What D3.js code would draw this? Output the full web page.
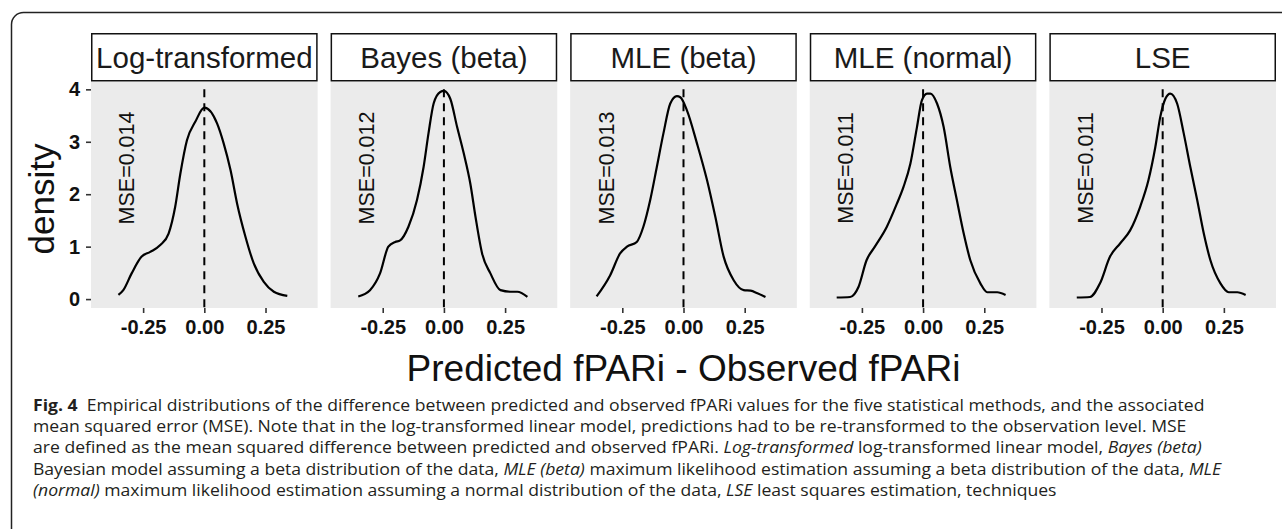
<!DOCTYPE html>
<html><head><meta charset="utf-8">
<script src="https://cdn.jsdelivr.net/npm/d3@7"></script>
<style>body{margin:0;background:#fff;} svg{display:block;}</style>
</head><body>
<svg id="chart" width="1282" height="529"></svg>
<script>
const panels = ["Log-transformed", "Bayes (beta)", "MLE (beta)", "MLE (normal)", "LSE"];
const mseLabels = ["MSE=0.014", "MSE=0.012", "MSE=0.013", "MSE=0.011", "MSE=0.011"];
const xTicks = [-0.25, 0, 0.25];
const xTickLabels = ["-0.25", "0.00", "0.25"];
const yTicks = [0, 1, 2, 3, 4];
const yTickLabels = ["0", "1", "2", "3", "4"];

const curveLog = [[-0.351,0.08],[-0.331,0.17],[-0.297,0.49],[-0.256,0.81],[-0.221,0.90],[-0.18,1.03],[-0.146,1.25],[-0.119,1.76],[-0.098,2.39],[-0.071,3.03],[-0.037,3.38],[0.0,3.65],[0.052,3.35],[0.079,2.97],[0.107,2.46],[0.134,1.82],[0.168,1.19],[0.202,0.68],[0.243,0.33],[0.284,0.14],[0.339,0.06]];
const curveBayes = [[-0.350,0.05],[-0.302,0.17],[-0.261,0.49],[-0.227,1.0],[-0.199,1.09],[-0.179,1.12],[-0.145,1.38],[-0.110,1.89],[-0.083,2.52],[-0.063,3.16],[-0.042,3.73],[-0.015,3.95],[0.0,3.97],[0.026,3.82],[0.054,3.28],[0.081,2.78],[0.108,2.20],[0.129,1.57],[0.156,0.87],[0.190,0.49],[0.231,0.17],[0.272,0.14],[0.300,0.14],[0.341,0.04]];
const curveMleBeta = [[-0.355,0.05],[-0.300,0.45],[-0.259,0.87],[-0.231,1.0],[-0.191,1.09],[-0.164,1.38],[-0.136,1.89],[-0.109,2.52],[-0.082,3.16],[-0.054,3.73],[-0.027,3.87],[-0.013,3.85],[0.014,3.6],[0.055,2.97],[0.096,2.27],[0.130,1.57],[0.164,0.81],[0.205,0.36],[0.246,0.17],[0.274,0.16],[0.302,0.11],[0.335,0.04]];
const curveMleNormal = [[-0.353,0.03],[-0.298,0.04],[-0.264,0.23],[-0.231,0.74],[-0.197,1.0],[-0.148,1.38],[-0.107,1.82],[-0.080,2.14],[-0.052,2.58],[-0.025,3.28],[-0.005,3.79],[0.016,3.92],[0.030,3.92],[0.057,3.73],[0.084,3.28],[0.111,2.52],[0.138,1.89],[0.166,1.25],[0.193,0.74],[0.234,0.30],[0.262,0.13],[0.303,0.13],[0.337,0.08]];
const curveLse = [[-0.351,0.03],[-0.297,0.04],[-0.256,0.30],[-0.215,0.81],[-0.174,1.06],[-0.133,1.31],[-0.092,1.76],[-0.058,2.27],[-0.030,2.90],[-0.010,3.47],[0.011,3.82],[0.031,3.92],[0.059,3.73],[0.086,3.16],[0.113,2.52],[0.141,1.89],[0.168,1.25],[0.195,0.74],[0.236,0.30],[0.270,0.13],[0.305,0.13],[0.339,0.08]];
const curves = [curveLog, curveBayes, curveMleBeta, curveMleNormal, curveLse];

const mseX = -0.317, mseY = 2.5;

const captionLines = [
  [["b","Fig. 4"],["r","  Empirical distributions of the difference between predicted and observed fPARi values for the five statistical methods, and the associated"]],
  [["r","mean squared error (MSE). Note that in the log-transformed linear model, predictions had to be re-transformed to the observation level. MSE"]],
  [["r","are defined as the mean squared difference between predicted and observed fPARi. "],["i","Log-transformed"],["r"," log-transformed linear model, "],["i","Bayes (beta)"]],
  [["r","Bayesian model assuming a beta distribution of the data, "],["i","MLE (beta)"],["r"," maximum likelihood estimation assuming a beta distribution of the data, "],["i","MLE"]],
  [["i","(normal)"],["r"," maximum likelihood estimation assuming a normal distribution of the data, "],["i","LSE"],["r"," least squares estimation, techniques"]]
];
const captionEnds = [1222, 1098, 1239, 1247, 1070];

const svg = d3.select("#chart");
const FONT = "'Liberation Sans', Arial, sans-serif";

svg.append("rect").attr("x", 11.5).attr("y", 12.5).attr("width", 1330).attr("height", 600)
  .attr("rx", 12).attr("fill", "#fff").attr("stroke", "#222").attr("stroke-width", 1.5);

const fx = d3.scaleBand().domain(panels).range([91, 1276]).paddingInner(0.054).paddingOuter(0);
const bw = fx.bandwidth();
const y = d3.scaleLinear().domain([-0.17, 4.14]).range([308, 82]);
const x = d3.scaleLinear().domain([-0.463, 0.463]).range([0, bw]);
const line = d3.line().x(d => x(d[0])).y(d => y(d[1])).curve(d3.curveMonotoneX);

panels.forEach((p, i) => {
  const g = svg.append("g").attr("transform", `translate(${fx(p)},0)`);
  g.append("rect").attr("x", 0).attr("y", y.range()[1]).attr("width", bw)
    .attr("height", y.range()[0] - y.range()[1]).attr("fill", "#EBEBEB");
  g.append("rect").attr("x", 0.75).attr("y", 33.75).attr("width", bw - 1.5).attr("height", 47)
    .attr("fill", "#fff").attr("stroke", "#111").attr("stroke-width", 1.5);
  g.append("text").attr("x", bw / 2).attr("y", 67.5).attr("text-anchor", "middle")
    .style("font-family", FONT).style("font-size", "29.5px").attr("fill", "#1a1a1a").text(p);

  const ax = g.append("g").attr("transform", `translate(0,${y.range()[0]})`)
    .call(d3.axisBottom(x).tickValues(xTicks).tickFormat((d, j) => xTickLabels[j]).tickSize(5).tickPadding(7));
  ax.select(".domain").remove();
  ax.selectAll("line").attr("stroke", "#333").attr("stroke-width", 1.6);
  ax.selectAll("text").style("font-family", FONT).style("font-size", "20px").style("font-weight", "bold").attr("fill", "#111");

  g.append("path").datum(curves[i]).attr("d", line).attr("fill", "none")
    .attr("stroke", "#000").attr("stroke-width", 2.2).attr("stroke-linejoin", "round");
  g.append("line").attr("x1", x(0)).attr("x2", x(0)).attr("y1", y(4)).attr("y2", y.range()[0])
    .attr("stroke", "#000").attr("stroke-width", 2).attr("stroke-dasharray", "8,6");

  g.append("text").attr("transform", `translate(${x(mseX)},${y(mseY)}) rotate(-90)`)
    .attr("text-anchor", "middle").attr("dy", "0.36em")
    .style("font-family", FONT).style("font-size", "21.5px").attr("fill", "#111").text(mseLabels[i]);
});

const ay = svg.append("g").attr("transform", `translate(${fx(panels[0])},0)`)
  .call(d3.axisLeft(y).tickValues(yTicks).tickFormat((d, j) => yTickLabels[j]).tickSize(5).tickPadding(6));
ay.select(".domain").remove();
ay.selectAll("line").attr("stroke", "#333").attr("stroke-width", 1.6);
ay.selectAll("text").style("font-family", FONT).style("font-size", "20px").style("font-weight", "bold").attr("fill", "#111");

svg.append("text").attr("transform", `translate(54,199) rotate(-90)`)
  .attr("text-anchor", "middle").style("font-family", FONT).style("font-size", "35px").attr("fill", "#111").text("density");

svg.append("text").attr("x", (fx.range()[0] + fx.range()[1]) / 2).attr("y", 381).attr("text-anchor", "middle")
  .style("font-family", FONT).style("font-size", "37px").attr("fill", "#111").text("Predicted fPARi - Observed fPARi");

const capX = 33, capY0 = 411, capDy = 21.2;
const capNodes = [];
const capScales = [];
captionLines.forEach((ln, k) => {
  const t = svg.append("text").attr("x", capX).attr("y", capY0 + k * capDy)
    .style("font-family", "'Open Sans', 'Noto Sans', sans-serif").style("font-size", "15.5px").attr("fill", "#231f20");
  ln.forEach(([s, str]) => {
    const ts = t.append("tspan").text(str).style("white-space", "pre");
    if (s === "b") ts.style("font-weight", "bold");
    if (s === "i") ts.style("font-style", "italic");
  });
  capNodes.push(t);
  capScales.push((captionEnds[k] - capX) / t.node().getComputedTextLength());
});
const capScale = d3.mean(capScales);
capNodes.forEach(t => t.attr("transform", `translate(${capX},0) scale(${capScale},1) translate(${-capX},0)`));
</script>
</body></html>
